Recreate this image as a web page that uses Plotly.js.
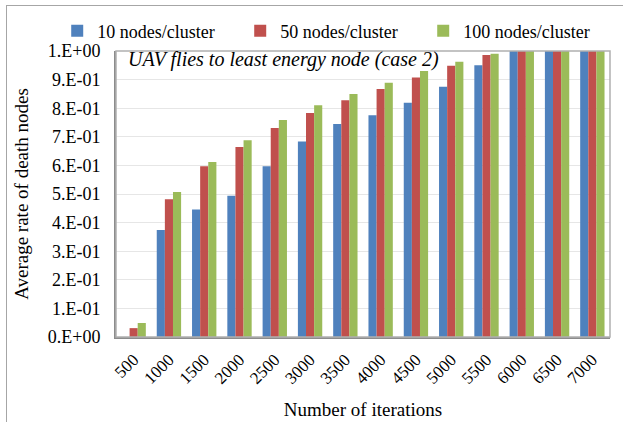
<!DOCTYPE html>
<html>
<head>
<meta charset="utf-8">
<script src="https://cdn.plot.ly/plotly-3.0.1.min.js"></script>
<style>
html,body{margin:0;padding:0;background:#fff;}
#wrap{position:absolute;left:0;top:0;width:623px;height:422px;}
#frame{position:absolute;left:6px;top:5px;width:640px;height:440px;border-left:1.5px solid #a6a6a6;border-top:1.5px solid #a6a6a6;pointer-events:none;}
#chart{position:absolute;left:0;top:0;width:623px;height:422px;}
</style>
</head>
<body>
<div id="wrap"><div id="chart"></div><div id="frame"></div></div>
<script>
const categories = ['500','1000','1500','2000','2500','3000','3500','4000','4500','5000','5500','6000','6500','7000'];
const seriesNames = ['10 nodes/cluster','50 nodes/cluster','100 nodes/cluster'];
const nodes10  = [0.000,0.374,0.446,0.494,0.597,0.684,0.745,0.775,0.819,0.875,0.950,1.0,1.0,1.0];
const nodes50  = [0.031,0.482,0.597,0.664,0.731,0.783,0.828,0.867,0.907,0.948,0.986,1.0,1.0,1.0];
const nodes100 = [0.049,0.507,0.612,0.688,0.759,0.810,0.850,0.889,0.930,0.962,0.990,1.0,1.0,1.0];
const yTickVals = [0,0.1,0.2,0.3,0.4,0.5,0.6,0.7,0.8,0.9,1.0];
const yTickText = ['0.E+00','1.E-01','2.E-01','3.E-01','4.E-01','5.E-01','6.E-01','7.E-01','8.E-01','9.E-01','1.E+00'];
const colors = ['#4f81bd','#c0504d','#9bbb59'];
const font = 'Liberation Serif';

const data = [nodes10, nodes50, nodes100].map((v,i)=>({
  type:'bar', x:categories, y:v, name:seriesNames[i],
  marker:{color:colors[i], line:{width:0}}
}));

const layout = {
  width:623, height:422,
  margin:{l:116, r:13, t:51, b:85, autoexpand:false},
  paper_bgcolor:'rgba(0,0,0,0)', plot_bgcolor:'#fff',
  font:{family:font, size:18, color:'#000'},
  barmode:'group', bargap:0.31, bargroupgap:0,
  showlegend:true,
  legend:{orientation:'h', x:-0.119, xanchor:'left', xref:'paper', y:1.07, yanchor:'middle', yref:'paper',
    font:{family:font,size:18}, entrywidth:138, entrywidthmode:'pixels', tracegroupgap:0, traceorder:'normal'},
  xaxis:{type:'category', tickangle:-45, ticks:'', showline:true, linecolor:'#8c8c8c', linewidth:2, mirror:false,
    ticklabelstandoff:4,
    tickfont:{family:font,size:17}, title:{text:'Number of iterations', font:{family:font,size:19}, standoff:16}},
  yaxis:{range:[0,1.0], tickvals:yTickVals, ticktext:yTickText, ticks:'', showgrid:true, gridcolor:'#e6e6e6', gridwidth:1,
    showline:true, linecolor:'#8c8c8c', linewidth:2, zeroline:false, ticklabelstandoff:10,
    tickfont:{family:font,size:18}, title:{text:'Average rate of death nodes', font:{family:font,size:19}, standoff:14}},
  shapes:[
    {type:'rect', xref:'paper', yref:'paper', x0:0, x1:1, y0:0, y1:1, line:{color:'#b0b0b0', width:1.5}, layer:'above'}
  ],
  annotations:[
    {text:'<i>UAV flies to least energy node (case 2)</i>', xref:'paper', yref:'paper', x:0.02, y:1.017, xanchor:'left', yanchor:'top', showarrow:false, font:{family:font,size:20}}
  ]
};
Plotly.newPlot('chart', data, layout, {displayModeBar:false, staticPlot:true});
</script>
</body>
</html>
